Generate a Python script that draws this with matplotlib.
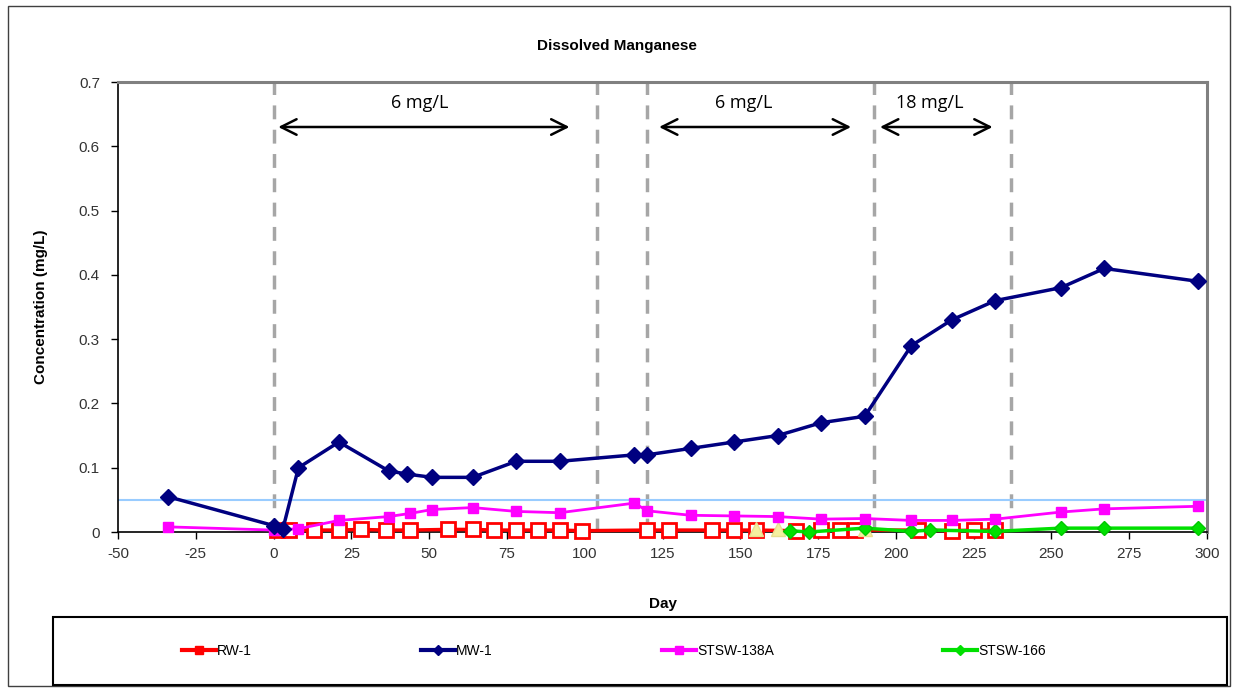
import numpy as np
import matplotlib
matplotlib.use("Agg")
import matplotlib.pyplot as plt
from matplotlib.lines import Line2D
from matplotlib.patches import Rectangle
from matplotlib.ticker import FuncFormatter

plt.rcParams['font.family'] = ['Liberation Sans', 'DejaVu Sans']
plt.rcParams['axes.unicode_minus'] = False

# Data
mw_days = [-34, 0, 3, 8, 21, 37, 43, 51, 64, 78, 92, 116, 120, 134, 148, 162, 176, 190, 205, 218, 232, 253, 267, 297]
mw_conc = [0.055, 0.01, 0.005, 0.1, 0.14, 0.095, 0.09, 0.085, 0.085, 0.11, 0.11, 0.12, 0.12, 0.13, 0.14, 0.15,
           0.17, 0.18, 0.29, 0.33, 0.36, 0.38, 0.41, 0.39]

stsw138_days = [-34, 0, 8, 21, 37, 44, 51, 64, 78, 92, 116, 120, 134, 148, 162, 176, 190, 205, 218, 232, 253, 267, 297]
stsw138_conc = [0.008, 0.003, 0.005, 0.018, 0.024, 0.029, 0.035, 0.038, 0.032, 0.03, 0.045, 0.033, 0.026, 0.025,
                0.024, 0.02, 0.021, 0.018, 0.018, 0.02, 0.031, 0.036, 0.04]

rw_days = [1, 5, 13, 21, 28, 36, 44, 56, 64, 71, 78, 85, 92, 99, 120, 127, 141, 148, 155, 168, 176, 182, 187,
           207, 218, 225, 232]
rw_conc = [0.003, 0.003, 0.003, 0.003, 0.004, 0.003, 0.003, 0.004, 0.004, 0.003, 0.003, 0.003, 0.003, 0.002,
           0.003, 0.003, 0.003, 0.003, 0.003, 0.002, 0.003, 0.003, 0.003, 0.003, 0.002, 0.003, 0.003]

stsw166_days = [166, 172, 190, 205, 211, 232, 253, 267, 297]
stsw166_conc = [0.002, 0.0, 0.006, 0.001, 0.003, 0.001, 0.006, 0.006, 0.006]

yellow_days = [155, 162, 190]
yellow_conc = [0.004, 0.004, 0.004]

dose_lines = [0, 104, 120, 193, 237]
dose_arrows = [(0.6, 96), (123, 186.5), (194, 232)]
dose_labels = ['6 mg/L', '6 mg/L', '18 mg/L']
dose_label_x = [47, 151, 211]
guideline = 0.05

fig = plt.figure(figsize=(12.36, 6.88), dpi=100)
ax = fig.add_axes([118 / 1236, 1 - 532 / 688, (1207 - 118) / 1236, (532 - 82) / 688])

# dosing periods
for d in dose_lines:
    ax.axvline(d, color='#A6A6A6', lw=2.5, dashes=(4, 3), zorder=1)
ax.axhline(guideline, color='#99CCFF', lw=1.5, zorder=1)

for (a, b), lab, lx in zip(dose_arrows, dose_labels, dose_label_x):
    ax.annotate('', xy=(a, 0.63), xytext=(b, 0.63),
                arrowprops=dict(arrowstyle='<->', lw=1.8, color='black', mutation_scale=28))
    ax.text(lx, 0.667, lab, ha='center', va='center', fontsize=13, family=['Open Sans', 'DejaVu Sans'])

ax.plot(rw_days, rw_conc, color='#FF0000', lw=2.5, marker='s', ms=10, mfc='white', mec='#FF0000', mew=2,
        zorder=3, clip_on=False)
ax.plot(yellow_days, yellow_conc, ls='none', marker='^', ms=10, color='#F5F0A0', mec='#E8E090', zorder=4,
        clip_on=False)
ax.plot(stsw166_days, stsw166_conc, color='#00E000', lw=2.5, marker='D', ms=7, mec='#00C800', zorder=4,
        clip_on=False)
ax.plot(stsw138_days, stsw138_conc, color='#FF00FF', lw=2, marker='s', ms=7, zorder=5, clip_on=False)
ax.plot(mw_days, mw_conc, color='#000080', lw=2.5, marker='D', ms=8, zorder=6, clip_on=False)

ax.set_xlim(-50, 300)
ax.set_ylim(0, 0.7)
ax.set_xticks(np.arange(-50, 301, 25))
ax.set_yticks(np.arange(0, 0.71, 0.1))
ax.yaxis.set_major_formatter(FuncFormatter(lambda v, p: '0' if abs(v) < 1e-9 else '%g' % round(v, 1)))
ax.tick_params(direction='out', length=5, width=1, labelsize=11, colors='black', labelcolor='#333333')
ax.tick_params(axis='y', pad=8)
ax.tick_params(axis='x', pad=6)
for s in ['left', 'bottom']:
    ax.spines[s].set_color('black')
    ax.spines[s].set_linewidth(1.2)
for s in ['top', 'right']:
    ax.spines[s].set_color('#808080')
    ax.spines[s].set_linewidth(2.2)

ax.set_xlabel('Day', fontsize=11, fontweight='bold', labelpad=26)
ax.set_ylabel('Concentration (mg/L)', fontsize=11, fontweight='bold', labelpad=22)
fig.text(617 / 1236, 1 - 46 / 688, 'Dissolved Manganese', ha='center', va='center', fontsize=11, fontweight='bold')

# outer frame and legend frame
fig.patches.append(Rectangle((8 / 1236, 2 / 688), 1222 / 1236, 680 / 688, transform=fig.transFigure,
                             fill=False, ec='#404040', lw=1))
fig.patches.append(Rectangle((53 / 1236, 3 / 688), 1174 / 1236, 68 / 688, transform=fig.transFigure,
                             fill=False, ec='black', lw=1.5))

handles = [
    Line2D([], [], color='#FF0000', lw=3, marker='s', ms=6),
    Line2D([], [], color='#000080', lw=3, marker='D', ms=5),
    Line2D([], [], color='#FF00FF', lw=3, marker='s', ms=6),
    Line2D([], [], color='#00E000', lw=3, marker='D', ms=5),
]
fig.legend(handles, ['RW-1', 'MW-1', 'STSW-138A', 'STSW-166'], loc='center',
           bbox_to_anchor=(614 / 1236, 1 - 651 / 688), ncol=4, frameon=False, handlelength=2.4,
           handletextpad=0.1, columnspacing=12.2, prop={'size': 10})

fig.savefig('out.png', dpi=100)
